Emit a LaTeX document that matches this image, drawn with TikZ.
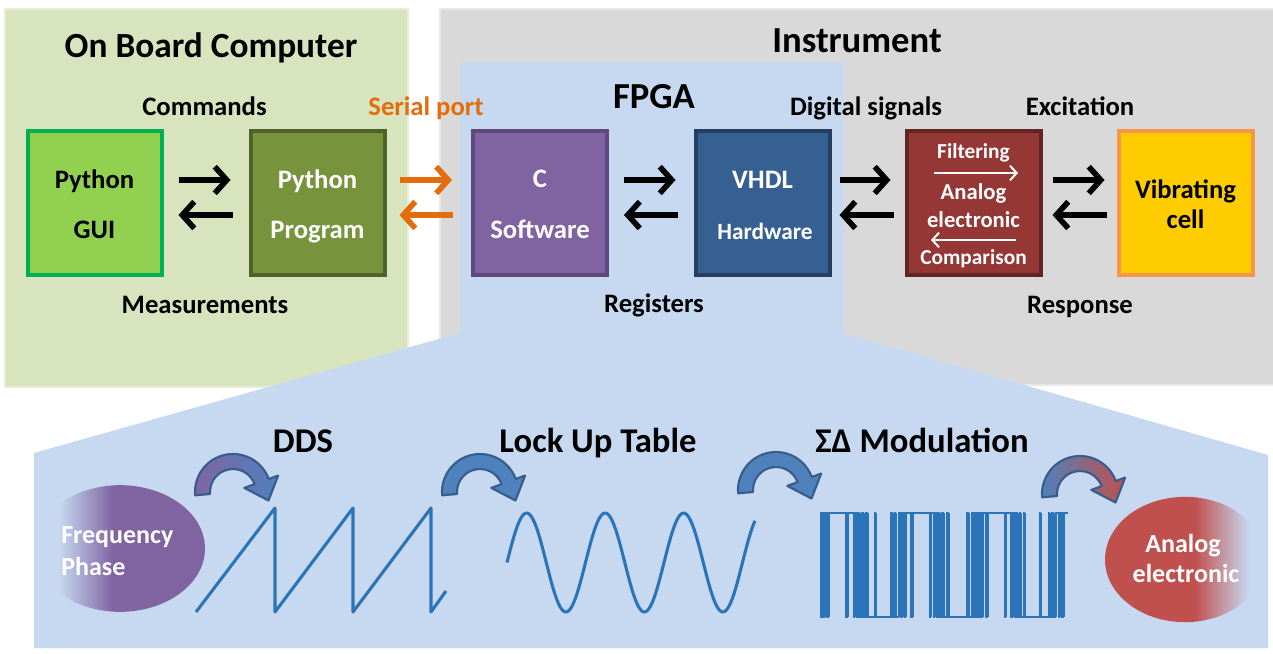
\documentclass[tikz,border=0pt]{standalone}
\usepackage{fontspec}
\setmainfont{Carlito}
\usetikzlibrary{arrows.meta,calc,shapes.geometric}

\definecolor{panelgreen}{HTML}{D7E4BD}
\definecolor{panelgreenedge}{HTML}{E6EED6}
\definecolor{panelgray}{HTML}{D9D9D9}
\definecolor{panelgrayedge}{HTML}{E8E8E8}
\definecolor{panelblue}{HTML}{C6D9F1}
\definecolor{guifill}{HTML}{92D050}
\definecolor{guidraw}{HTML}{00B050}
\definecolor{progfill}{HTML}{77933C}
\definecolor{progdraw}{HTML}{4F6228}
\definecolor{cfill}{HTML}{8064A2}
\definecolor{cdraw}{HTML}{5F497A}
\definecolor{vhdlfill}{HTML}{366092}
\definecolor{vhdldraw}{HTML}{243F60}
\definecolor{anafill}{HTML}{953735}
\definecolor{anadraw}{HTML}{632523}
\definecolor{vibfill}{HTML}{FFCC00}
\definecolor{vibdraw}{HTML}{F79646}
\definecolor{serial}{HTML}{E46C0A}
\definecolor{waveblue}{HTML}{2B74B7}
\definecolor{bentblue}{HTML}{4F81BD}
\definecolor{bentedge}{HTML}{385D8A}
\definecolor{ellpurple}{HTML}{8064A2}
\definecolor{ellred}{HTML}{C0504D}

% ellipses that fade into the panel colour on one side
\pgfdeclarehorizontalshading{fadepurple}{100bp}{color(0bp)=(panelblue); color(32bp)=(panelblue); color(48bp)=(ellpurple); color(100bp)=(ellpurple)}
\pgfdeclarehorizontalshading{fadered}{100bp}{color(0bp)=(ellred); color(53bp)=(ellred); color(70bp)=(panelblue); color(100bp)=(panelblue)}

\newcommand\setfs[1]{\fontsize{#1}{#1}\selectfont\bfseries}

% curved block arrow around a centre point
\newcommand\bentarrow[2]{%
  \begin{scope}[shift={(#1)}]
    \shadedraw[draw=bentedge, line width=1.6pt, line join=round, #2]
      (-185:38) arc[start angle=-185, end angle=-20, radius=38]
      -- (-20:48) -- (35.5,8.5) -- (-20:12) -- (-20:23)
      arc[start angle=-20, end angle=-185, radius=23] -- cycle;
  \end{scope}}

\begin{document}
\begin{tikzpicture}[x=0.75pt, y=-0.75pt,
  box/.style={rectangle, minimum width=100.5pt, minimum height=108pt, line width=3pt, inner sep=0pt},
  txt/.style={anchor=base, inner sep=0pt},
  title/.style={txt, font=\setfs{26.5pt}},
  lbl/.style={txt, font=\setfs{20pt}},
  boxtxt/.style={txt, font=\setfs{20pt}},
  smalltxt/.style={txt, font=\setfs{16pt}, text=white},
  arr/.style={line width=4.2pt, -{Straight Barb[length=9pt, width=20pt]}},
  thinarr/.style={white, line width=1.5pt, -{Straight Barb[length=5pt, width=11pt]}},
  wave/.style={waveblue, line width=2.3pt, line join=round},
  sdline/.style={waveblue, line width=1.6pt}]

\useasboundingbox (0,0) rectangle (1273,653);
\fill[white] (0,0) rectangle (1273,653);

% panels
\filldraw[fill=panelgreen, draw=panelgreenedge, line width=2pt] (5,9) rectangle (408,387);
\filldraw[fill=panelgray, draw=panelgrayedge, line width=2pt] (440,9) rectangle (1275,385);
\fill[panelblue] (460,62) -- (843,62) -- (843,333) -- (1268,455) -- (1268,648)
  -- (34,648) -- (34,453) -- (460,333) -- cycle;

% panel titles
\node[title] (obc) at (211,57) {On Board Computer};
\node[title, font=\setfs{27.5pt}] (instr) at (857,52) {Instrument};
\node[title, font=\setfs{27.5pt}] (fpga) at (654,108) {FPGA};

% blocks
\node[box, fill=guifill, draw=guidraw] (gui) at (94.5,203) {};
\node[box, fill=progfill, draw=progdraw] (prog) at (317.5,203) {};
\node[box, fill=cfill, draw=cdraw] (csw) at (540,203) {};
\node[box, fill=vhdlfill, draw=vhdldraw] (vhdl) at (762.5,203) {};
\node[box, fill=anafill, draw=anadraw] (ana) at (973.5,203) {};
\node[box, fill=vibfill, draw=vibdraw] (vib) at (1185.5,203) {};

% block texts
\node[boxtxt] (gui1) at (94.5,188) {Python};
\node[boxtxt] (gui2) at (94.5,238) {GUI};
\node[boxtxt, text=white] (prog1) at (317.5,188) {Python};
\node[boxtxt, text=white] (prog2) at (317.5,238) {Program};
\node[boxtxt, text=white] (csw1) at (540,187) {C};
\node[boxtxt, text=white] (csw2) at (540,238) {Software};
\node[boxtxt, text=white] (vhdl1) at (762.5,188) {VHDL};
\node[txt, font=\setfs{17.5pt}, text=white] (vhdl2) at (765,239) {Hardware};
\node[smalltxt] (ana1) at (973.5,158) {Filtering};
\node[smalltxt, font=\setfs{17pt}] (ana2) at (973.5,199) {Analog};
\node[smalltxt, font=\setfs{17pt}] (ana3) at (973.5,227) {electronic};
\node[smalltxt] (ana4) at (973.5,264) {Comparison};
\node[boxtxt] (vib1) at (1185.5,198) {Vibrating};
\node[boxtxt] (vib2) at (1185.5,228) {cell};

% arrows inside the analog block
\coordinate (fa) at (934,173);
\coordinate (fb) at (1018,173);
\coordinate (ca) at (1016,240);
\coordinate (cb) at (931,240);
\draw[thinarr] (fa) -- (fb);
\draw[thinarr] (ca) -- (cb);

% link labels
\node[lbl] (cmd) at (204.5,115) {Commands};
\node[lbl] (meas) at (205,313) {Measurements};
\node[lbl, text=serial] (ser) at (426,115) {Serial port};
\node[lbl] (reg) at (654,312) {Registers};
\node[lbl] (dig) at (866,115) {Digital signals};
\node[lbl] (exc) at (1080,115) {Excitation};
\node[lbl] (resp) at (1080,313) {Response};

% two-way links between blocks
\draw[arr] ($(gui.east)+(15,-23)$) -- ($(prog.west)+(-18,-23)$);
\draw[arr] ($(prog.west)+(-16,12)$) -- ($(gui.east)+(15,12)$);
\draw[arr, serial] ($(prog.east)+(13,-23)$) -- ($(csw.west)+(-19,-23)$);
\draw[arr, serial] ($(csw.west)+(-18,12)$) -- ($(prog.east)+(13,12)$);
\draw[arr] ($(csw.east)+(15,-23)$) -- ($(vhdl.west)+(-18,-23)$);
\draw[arr] ($(vhdl.west)+(-16,12)$) -- ($(csw.east)+(15,12)$);
\draw[arr] ($(vhdl.east)+(8,-23)$) -- ($(ana.west)+(-14,-23)$);
\draw[arr] ($(ana.west)+(-11,12)$) -- ($(vhdl.east)+(8,12)$);
\draw[arr] ($(ana.east)+(10,-23)$) -- ($(vib.west)+(-12,-23)$);
\draw[arr] ($(vib.west)+(-10,12)$) -- ($(ana.east)+(10,12)$);

% processing chain titles
\node[title, font=\setfs{26pt}] (dds) at (303,452) {DDS};
\node[title, font=\setfs{26pt}] (lut) at (598,452) {Lock Up Table};
\node[title, font=\setfs{26pt}] (sdm) at (922,452) {ΣΔ Modulation};

% input and output ellipses
\node[ellipse, minimum width=127.5pt, minimum height=95pt, inner sep=0pt, shading=fadepurple] (freq) at (120,548.5) {};
\node[txt, anchor=base west, font=\setfs{19.5pt}, text=white] (freq1) at (61,543) {Frequency};
\node[txt, anchor=base west, font=\setfs{19.5pt}, text=white] (freq2) at (61,575) {Phase};
\node[ellipse, minimum width=120pt, minimum height=94pt, inner sep=0pt, shading=fadered] (aout) at (1185,559.5) {};
\node[txt, font=\setfs{19.5pt}, text=white] (aout1) at (1183,552) {Analog};
\node[txt, font=\setfs{19.5pt}, text=white] (aout2) at (1186,582) {electronic};

% curved arrows between the stages
\bentarrow{233,492}{left color=ellpurple, right color=bentblue}
\bentarrow{480,492}{left color=bentblue, right color=bentblue}
\bentarrow{776,490}{left color=bentblue, right color=bentblue}
\bentarrow{1080,494}{left color=bentblue, right color=ellred}

% phase accumulator (sawtooth)
\draw[wave] (196,612) -- (275,508) -- (275,612) -- (353,508) -- (353,612)
  -- (431,508) -- (431,612) -- (446,591);

% sine from the table (period 78.5 units: 360/78.5 = 4.586 degrees per unit)
\draw[wave] plot[domain=0:248, samples=160, smooth] ({507+\x}, {562.5-49.5*sin(4.586*\x)});

% first-order sigma-delta bit stream, one bit every 1.25 units
\xdef\sdacc{0}\xdef\sdprev{1}
\foreach \k in {0,...,197}{%
  \pgfmathsetmacro\sdx{820+1.25*\k}%
  \pgfmathsetmacro\sdv{\sdacc+0.96*sin(5.7325*\k)}%
  \pgfmathsetmacro\sdout{\sdv<0 ? -1 : 1}%
  \pgfmathsetmacro\sdnext{\sdv-\sdout}%
  \draw[sdline] (\sdx,{565-52*\sdprev}) -- (\sdx,{565-52*\sdout}) -- ({\sdx+1.25},{565-52*\sdout});%
  \global\let\sdacc\sdnext
  \global\let\sdprev\sdout
}
\end{tikzpicture}
\end{document}
